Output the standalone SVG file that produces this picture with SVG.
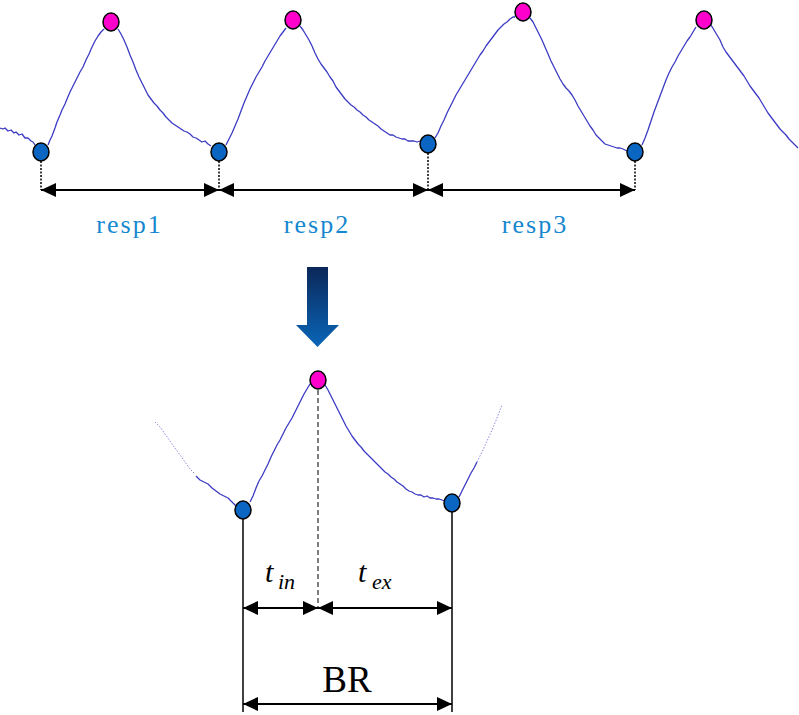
<svg xmlns="http://www.w3.org/2000/svg" width="799" height="715" viewBox="0 0 799 715">
<defs>
<linearGradient id="bg" x1="0" y1="0" x2="0" y2="1">
<stop offset="0" stop-color="#0b2759"/>
<stop offset="1" stop-color="#0a66b8"/>
</linearGradient>
</defs>

<g id="top-wave" fill="none" stroke="#3b3bc4" stroke-width="1.3" stroke-linejoin="round">
<polyline points="0,128 3,129 5,128 8,131 11,130 14,133 16,132 19,135 22,134 25,138 28,138 31,141 33,142 35,145"/>
<polyline points="48,145 50,140 52,136 55,128 57,122 60,115 62,110 65,104 67,99 70,92 72,88 75,82 78,76 80,72 83,67 86,60 89,54 92,47 95,41 98,36 101,32 104,29"/>
<polyline points="118,29 121,34 124,40 127,47 130,55 133,62 136,70 139,77 142,83 145,89 148,95 151,99 154,103 157,106 160,110 163,113 166,117 169,120 172,123 175,125 178,127 181,129 184,131 187,132 190,134 193,137 196,138 199,140 202,142 205,141 208,144 211,146"/>
<polyline points="226,145 229,139 232,133 235,126 238,119 241,111 244,103 247,96 250,89 253,83 256,77 259,72 262,67 265,61 268,56 271,51 274,46 277,41 280,36 283,32 286,28"/>
<polyline points="300,26 303,30 306,35 309,40 312,46 315,53 318,59 321,64 324,68 327,72 330,77 333,81 336,87 339,91 342,95 345,99 348,102 351,105 354,107 357,110 360,112 363,115 366,117 369,120 372,122 375,124 378,126 381,129 384,131 387,133 390,135 393,135 396,137 399,138 402,139 405,139 408,141 411,141 414,141 417,142 420,141"/>
<polyline points="435,138 438,133 441,126 444,120 447,113 450,107 453,101 456,95 459,90 462,85 465,80 468,75 471,70 474,65 477,60 480,55 483,51 486,46 489,42 492,38 495,34 498,30 501,27 504,24 507,22 510,19 513,17 515,17"/>
<polyline points="530,18 533,22 536,28 539,34 542,40 545,47 548,54 551,61 554,67 557,73 560,79 563,84 566,88 569,91 572,95 575,100 578,106 581,111 584,116 587,121 590,126 593,130 596,135 599,138 602,141 605,144 608,145 611,146 614,147 617,148 620,148 623,149 627,151"/>
<polyline points="642,145 645,138 648,130 651,121 654,112 657,104 660,96 663,88 666,80 669,73 672,67 675,62 678,56 681,51 684,46 687,41 690,37 693,32 696,27"/>
<polyline points="711,25 714,30 717,35 720,40 723,47 726,52 729,56 732,60 735,64 738,68 741,72 744,76 747,81 750,86 753,90 756,94 759,98 762,103 765,108 768,113 771,117 774,121 777,125 780,129 783,132 786,135 789,139 792,142 795,145 798,148"/>
</g>

<g id="top-connectors">
<g stroke="#000" fill="none" stroke-width="1.5" stroke-dasharray="2 1.5">
<line x1="41" y1="161" x2="41" y2="190"/>
<line x1="219" y1="161" x2="219" y2="190"/>
<line x1="428" y1="153" x2="428" y2="190"/>
<line x1="635" y1="161" x2="635" y2="190"/>
</g>
<line x1="41" y1="190" x2="635" y2="190" stroke="#000" stroke-width="2"/>
<g fill="#000">
<polygon points="41,190 56,183 56,197"/>
<polygon points="219,190 204,183 204,197"/>
<polygon points="219,190 234,183 234,197"/>
<polygon points="428,190 413,183 413,197"/>
<polygon points="428,190 443,183 443,197"/>
<polygon points="635,190 620,183 620,197"/>
</g>
</g>

<g id="top-points" stroke="#000" stroke-width="1.5">
<ellipse fill="#0a66c2" cx="41" cy="152" rx="8" ry="9"/>
<ellipse fill="#ff00cc" cx="111" cy="22" rx="8" ry="9"/>
<ellipse fill="#0a66c2" cx="219" cy="152" rx="8" ry="9"/>
<ellipse fill="#ff00cc" cx="293" cy="20" rx="8" ry="9"/>
<ellipse fill="#0a66c2" cx="428" cy="144" rx="8" ry="9"/>
<ellipse fill="#ff00cc" cx="523" cy="12" rx="8" ry="9"/>
<ellipse fill="#0a66c2" cx="635" cy="152" rx="8" ry="9"/>
<ellipse fill="#ff00cc" cx="704" cy="20" rx="8" ry="9"/>
</g>

<g id="labels">
<text id="resp1" x="129.5" y="233" font-family="Liberation Serif" font-size="26" fill="#1688d0" text-anchor="middle" letter-spacing="2">resp1</text>
<text id="resp2" x="317" y="233" font-family="Liberation Serif" font-size="26" fill="#1688d0" text-anchor="middle" letter-spacing="2">resp2</text>
<text id="resp3" x="535" y="233" font-family="Liberation Serif" font-size="26" fill="#1688d0" text-anchor="middle" letter-spacing="2">resp3</text>
</g>

<g id="big-arrow">
<polygon points="307,267 328,267 328,325 339,325 317.5,347 296,325 307,325" fill="url(#bg)"/>
</g>

<g id="bottom-wave" fill="none" stroke-linejoin="round">
<g stroke="#8c8ce0" stroke-width="1" stroke-dasharray="1.5 1.5">
<polyline points="155,422 160,427 165,434 170,441 175,448 180,455 185,462 190,469 195,474"/>
<polyline points="477,462 482,452 487,441 492,430 497,418 502,405"/>
</g>
<g stroke="#3b3bc4" stroke-width="1.3">
<polyline points="196,476 200,480 204,482 208,484 212,488 216,491 220,494 224,496 228,498 232,502 236,506"/>
<polyline points="250,502 253,496 256,488 259,481 262,476 265,470 268,464 271,457 274,451 277,445 280,440 283,434 286,428 289,423 292,418 295,412 298,406 301,400 304,394 307,389 310,384"/>
<polyline points="325,385 328,390 331,396 334,402 337,408 340,414 343,420 346,426 349,431 352,436 355,440 358,444 361,447 364,451 367,454 370,457 373,460 376,463 379,466 382,469 385,472 388,474 391,477 394,479 397,482 400,484 403,486 406,489 409,491 412,492 415,494 418,495 421,495 424,497 427,496 430,498 433,498 436,499 439,499 442,500 445,501"/>
<polyline points="459,497 462,491 465,485 468,479 471,473 474,468 477,462"/>
</g>
</g>

<g id="bottom-connectors">
<line x1="318" y1="390" x2="318" y2="608" stroke="#555" stroke-width="1.5" stroke-dasharray="5 3"/>
<g stroke="#000" stroke-width="1.5">
<line x1="243" y1="519" x2="243" y2="712"/>
<line x1="452" y1="512" x2="452" y2="712"/>
</g>
<g stroke="#000" stroke-width="2">
<line x1="243" y1="608" x2="452" y2="608"/>
<line x1="243" y1="704" x2="452" y2="704"/>
</g>
<g fill="#000">
<polygon points="243,608 258,601 258,615"/>
<polygon points="318,608 303,601 303,615"/>
<polygon points="318,608 333,601 333,615"/>
<polygon points="452,608 437,601 437,615"/>
<polygon points="243,704 258,697 258,711"/>
<polygon points="452,704 437,697 437,711"/>
</g>
</g>

<g id="bottom-points" stroke="#000" stroke-width="1.5">
<ellipse fill="#0a66c2" cx="243" cy="510" rx="8" ry="9"/>
<ellipse fill="#ff00cc" cx="318" cy="380" rx="8" ry="9"/>
<ellipse fill="#0a66c2" cx="452" cy="503" rx="8" ry="9"/>
</g>

<g id="math">
<text id="t-in" x="265" y="582" font-family="Liberation Serif" font-style="italic" font-size="30" fill="#000">t</text>
<text id="t-in-sub" x="278" y="589" font-family="Liberation Serif" font-style="italic" font-size="22" fill="#000">in</text>
<text id="t-ex" x="358" y="582" font-family="Liberation Serif" font-style="italic" font-size="30" fill="#000">t</text>
<text id="t-ex-sub" x="372" y="589" font-family="Liberation Serif" font-style="italic" font-size="22" fill="#000">ex</text>
</g>
<g id="br"><text x="347" y="692" font-family="Liberation Serif" font-size="37" fill="#000" text-anchor="middle">BR</text></g>
</svg>
